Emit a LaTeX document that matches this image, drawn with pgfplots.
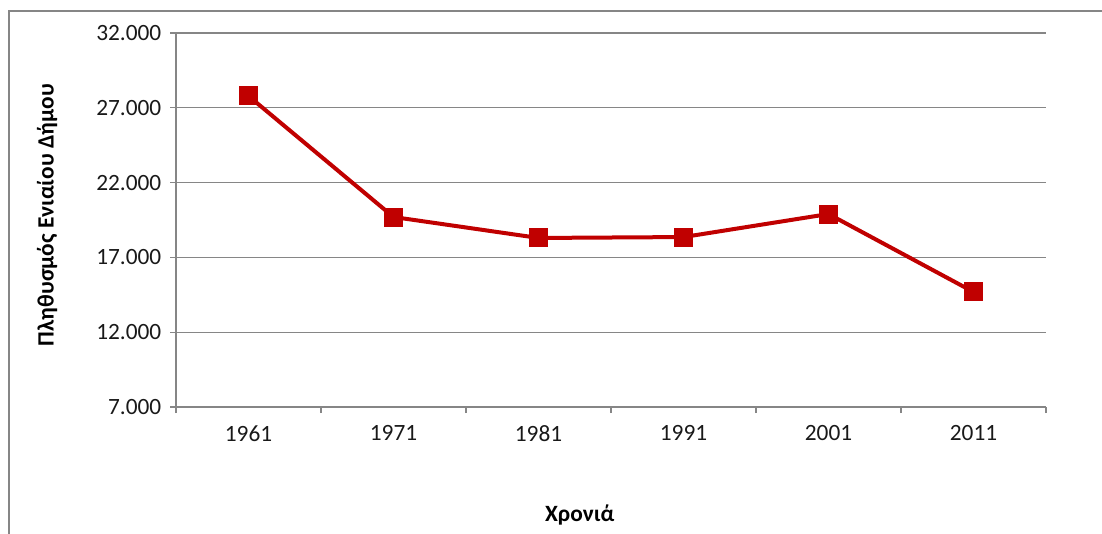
\documentclass[border=0pt]{standalone}
\usepackage{fontspec}
\setmainfont{Carlito}
\usepackage{pgfplots}
\pgfplotsset{compat=1.18}
\definecolor{linered}{HTML}{C00000}
\definecolor{gridgray}{HTML}{868686}
\begin{document}
\begin{tikzpicture}
\useasboundingbox (0,0) rectangle (826.5pt,399.75pt);
\draw[gridgray, line width=1.5pt] (6.75pt,-20pt) -- (6.75pt,391.5pt) -- (840pt,391.5pt);
\begin{axis}[
  at={(132pt,94.5pt)}, anchor=south west,
  width=652.5pt, height=280.5pt, scale only axis,
  xmin=-0.5, xmax=5.5, ymin=7000, ymax=32000,
  axis x line*=bottom, axis y line*=left,
  axis line style={gridgray, line width=0.8pt, -},
  xtick={0,1,2,3,4,5},
  xticklabels={1961,1971,1981,1991,2001,2011},
  minor xtick={-0.5,0.5,1.5,2.5,3.5,4.5,5.5},
  ytick={7000,12000,17000,22000,27000,32000},
  scaled y ticks=false,
  ymajorgrids, grid style={gridgray, line width=0.8pt},
  tick align=outside,
  major tick length=4.5pt, minor tick length=4.5pt,
  x tick style={draw=none},
  minor x tick style={draw=gridgray, line width=0.8pt},
  y tick style={gridgray, line width=0.8pt},
  tick label style={font=\fontsize{17.5}{20}\selectfont, text=black!90},
  yticklabel style={xshift=-3pt, /pgf/number format/.cd, fixed, precision=0, 1000 sep={.}, assume math mode=true},
  xticklabel style={yshift=-6pt},
  xlabel={\textbf{Χρονιά}},
  ylabel={\textbf{Πληθυσμός Ενιαίου Δήμου}},
  label style={font=\fontsize{17.5}{20}\selectfont},
  xlabel style={at={(axis description cs:0.464,-0.289)}, anchor=center},
  ylabel style={at={(axis description cs:-0.148,0.513)}, anchor=center, rotate=0},
  clip=false,
]
\addplot[linered, line width=3pt, mark=square*, mark size=6.75pt, mark options={fill=linered, draw=linered, line width=0pt}]
  coordinates {(0,27790) (1,19700) (2,18300) (3,18360) (4,19900) (5,14690)};
\end{axis}
\end{tikzpicture}
\end{document}
